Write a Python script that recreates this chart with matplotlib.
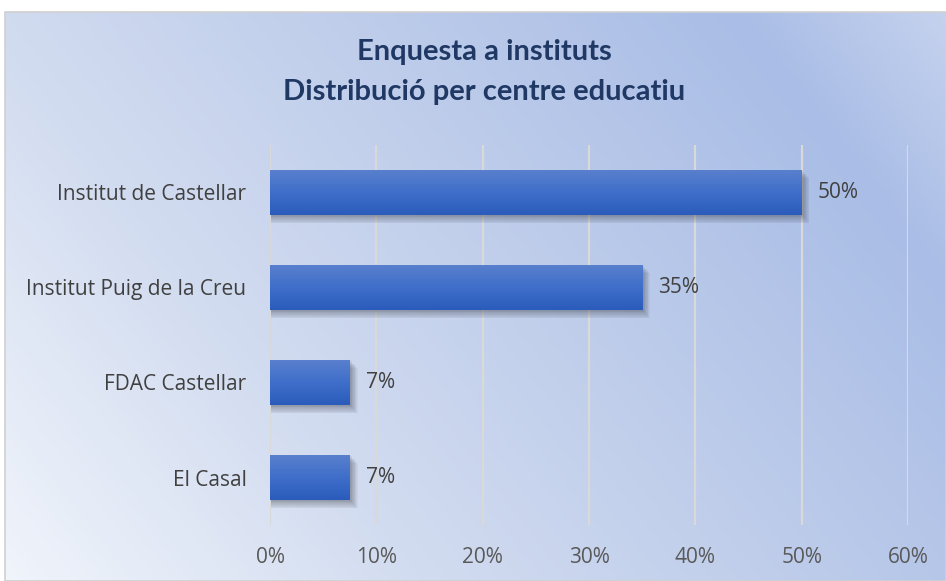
import matplotlib.pyplot as plt
import numpy as np
from matplotlib.colors import LinearSegmentedColormap
from matplotlib.patches import Rectangle

# data
centres = ["Institut de Castellar", "Institut Puig de la Creu", "FDAC Castellar", "El Casal"]
shares = [0.50, 0.35, 0.075, 0.075]
share_labels = ["50%", "35%", "7%", "7%"]
x_ticks = [0, 0.1, 0.2, 0.3, 0.4, 0.5, 0.6]
x_tick_labels = ["0%", "10%", "20%", "30%", "40%", "50%", "60%"]
title_lines = ["Enquesta a instituts", "Distribució per centre educatiu"]

W, H = 946, 581
fig = plt.figure(figsize=(W / 100, H / 100), dpi=100)
fig.patch.set_facecolor("white")

# chart area background with diagonal gradient
bg_left, bg_top = 5 / W, 1 - 12 / H
bg = fig.add_axes([bg_left, 0, 1 - bg_left, bg_top], zorder=0)
bg_cmap = LinearSegmentedColormap.from_list(
    "bg", [(0.0, "#f0f4fb"), (0.3, "#d2dcf0"), (0.6, "#bccbea"),
           (0.85, "#a9bde6"), (1.0, "#c5d2ee")])
gx, gy = np.meshgrid(np.linspace(0, 1, 400), np.linspace(0, 1, 300))
grad = gx * 0.68 + gy * 0.32
bg.imshow(grad, cmap=bg_cmap, origin="lower", aspect="auto", extent=[0, 1, 0, 1])
bg.set_xlim(0, 1)
bg.set_ylim(0, 1)
bg.axis("off")
fig.add_artist(Rectangle((bg_left, 0), 1 - bg_left, bg_top, transform=fig.transFigure,
                         fill=False, edgecolor="#d0d0d0", linewidth=1.2, zorder=1))

# plot area
ax = fig.add_axes([270 / W, 1 - 525 / H, 638 / W, 380 / H], zorder=2)
ax.patch.set_alpha(0)
ypos = np.arange(len(centres))[::-1]
ax.set_xlim(0, 0.6)
ax.set_ylim(-0.5, len(centres) - 0.5)

for xt in x_ticks:
    ax.axvline(xt, color="#d9d9d9", linewidth=1.6, zorder=1)

bar_h = 0.48
bar_cmap = LinearSegmentedColormap.from_list("bar", ["#2c5cbb", "#3f6fca", "#5a80cd"])
vgrad = np.linspace(0, 1, 100).reshape(-1, 1)
for y, v, lab in zip(ypos, shares, share_labels):
    # soft shadow, stacked translucent layers
    for k in range(10):
        grow = 0.004 + k * 0.009
        ax.add_patch(Rectangle((0.001, y - bar_h / 2 - grow), v + k * 0.0007, bar_h,
                               facecolor="#2a2e36", alpha=0.045, edgecolor="none", zorder=2))
    bar = ax.barh(y, v, height=bar_h, color="none", zorder=3)[0]
    im = ax.imshow(vgrad, cmap=bar_cmap, origin="lower", aspect="auto",
                   extent=[0, v, y - bar_h / 2, y + bar_h / 2], zorder=3)
    im.set_clip_path(bar)
    ax.text(v + 0.015, y, lab, va="center", ha="left", fontsize=15,
            color="#404040", family="Open Sans", zorder=4)

ax.set_xlim(0, 0.6)
ax.set_ylim(-0.5, len(centres) - 0.5)
ax.set_xticks(x_ticks)
ax.set_xticklabels(x_tick_labels, fontsize=15, color="#595959", family="Open Sans")
ax.set_yticks(ypos)
ax.set_yticklabels(centres, fontsize=15, color="#404040", family="Open Sans")
ax.tick_params(axis="x", length=0, pad=16)
ax.tick_params(axis="y", length=0, pad=17)
for s in ax.spines.values():
    s.set_visible(False)

fig.text(484 / W, 1 - 52 / H, title_lines[0], ha="center", va="center",
         fontsize=21, fontweight="bold", color="#203864", family="Lato")
fig.text(484 / W, 1 - 92 / H, title_lines[1], ha="center", va="center",
         fontsize=21, fontweight="bold", color="#203864", family="Lato")

fig.savefig("out.png", dpi=100)
